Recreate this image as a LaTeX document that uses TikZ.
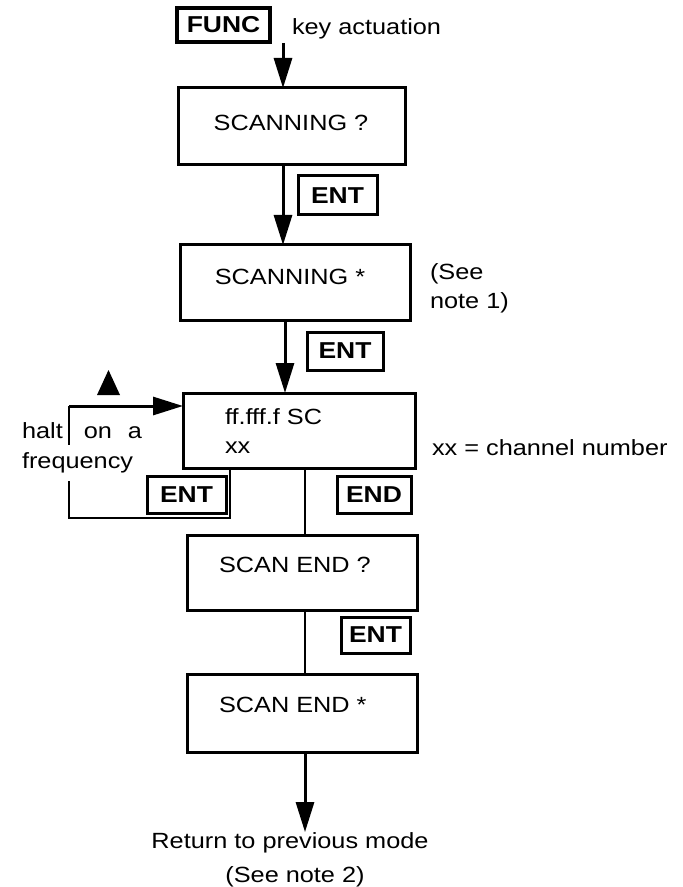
\documentclass[tikz,border=0pt]{standalone}
\usepackage{fontspec}
\setmainfont{Liberation Sans}[FakeStretch=1.15]
\usetikzlibrary{arrows.meta}
\begin{document}
\begin{tikzpicture}[x=0.5pt,y=-0.5pt,
  every node/.style={font=\fontsize{11pt}{14.5pt}\selectfont, inner sep=0pt, outer sep=0pt},
  state/.style={draw, line width=1.5pt, minimum width=115pt, minimum height=37.5pt},
  keybox/.style={draw, line width=1.5pt, font=\fontsize{11.5pt}{14pt}\selectfont\bfseries},
  arr/.style={line width=1.5pt, -{Triangle[length=15pt,width=9pt]}},
  link/.style={line width=1.3pt},
  loopline/.style={line width=1.1pt}]
\useasboundingbox (0,0) rectangle (682,887);

% key that starts the sequence
\node[keybox, line width=1.8pt, minimum width=46.5pt, minimum height=17pt] (func) at (223.5,25) {FUNC};
\node[anchor=base west] (keyact) at (292,35) {key actuation};
\coordinate (start) at (283,43);

% state boxes
\node[state, minimum width=113.5pt, minimum height=38.5pt] (b1) at (291.5,126.5) {};
\node (t1) at (291,123) {SCANNING ?};
\node[state] (b2) at (295,282.5) {};
\node (t2) at (290,277) {SCANNING *};
\node[state, minimum width=116pt] (b3) at (299,430.5) {};
\node[anchor=west] (t3a) at (225,417) {ff.fff.f SC};
\node[anchor=west] (t3b) at (225,448) {xx};
\node[state] (b4) at (302,572.5) {};
\node[anchor=west] (t4) at (219,565) {SCAN END ?};
\node[state, minimum height=39pt] (b5) at (302,713) {};
\node[anchor=west] (t5) at (219,705) {SCAN END *};

% key labels beside the connectors
\node[keybox, minimum width=39.5pt, minimum height=19.5pt] (ent1) at (337.5,195.5) {ENT};
\node[keybox, minimum width=38pt, minimum height=19pt] (ent2) at (345,351) {ENT};
\node[keybox, minimum width=39.5pt, minimum height=18.5pt] (ent3) at (186.5,494.5) {ENT};
\node[keybox, minimum width=37pt, minimum height=18.5pt] (endk) at (374,494.5) {END};
\node[keybox, minimum width=34.5pt, minimum height=18pt] (ent4) at (375.5,635) {ENT};

% side notes
\node[anchor=west, align=left] (note1) at (430,288) {(See\\note 1)};
\node[anchor=west] (chan) at (432,448) {xx = channel number};
\node[anchor=west] (halt) at (22,431) {halt\hspace{10.5pt}on\hspace{8pt}a};

% final text
\node[anchor=base] (ret1) at (290,848) {Return to previous mode};
\node[anchor=base] (ret2) at (295,882) {(See note 2)};

% main flow
\draw[arr] (start) -- (start |- b1.north);
\draw[arr] (b1.south -| start) -- (start |- b2.north);
\coordinate (x2) at (285,0);
\draw[arr] (b2.south -| x2) -- (x2 |- b3.north);
\coordinate (x3) at (305,0);
\draw[link] (b3.south -| x3) -- (x3 |- b4.north);
\draw[link] (b4.south -| x3) -- (x3 |- b5.north);
\draw[arr] (b5.south -| x3) -- (x3 |- ret1.north);

% halt loop back into the scanning display
\coordinate (lr) at (230,518);
\coordinate (ll) at (69,518);
\coordinate (lt) at (69,406);
\draw[loopline] (b3.south -| lr) -- (lr) -- (ll) -- (lt);
\draw[arr] (lt) -- (lt -| b3.west);
\fill (97,395) -- (120,395) -- (108.5,370) -- cycle;
\node[anchor=west, fill=white, inner ysep=4pt] (freq) at (22,463) {frequency};
\end{tikzpicture}
\end{document}
